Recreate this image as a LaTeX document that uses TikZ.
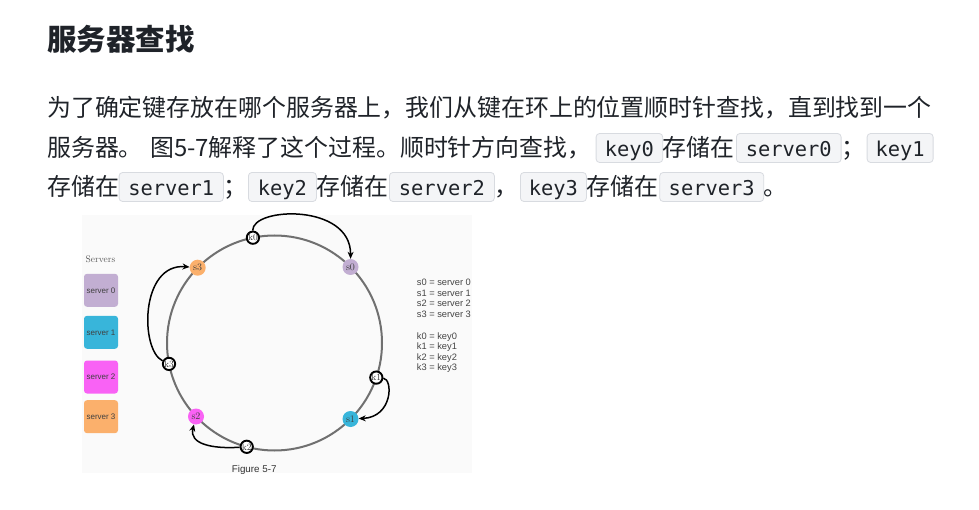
\documentclass[tikz,border=0pt]{standalone}
\usepackage{fontspec}
\usetikzlibrary{arrows.meta}
\newfontfamily\cjk{Noto Sans CJK SC}
\newfontfamily\codefont{DejaVu Sans Mono}
\newfontfamily\arial{Liberation Sans}
\definecolor{textdark}{HTML}{1F2329}
\definecolor{codebg}{HTML}{F4F5F7}
\definecolor{codeborder}{HTML}{D8DBE0}
\definecolor{figbg}{HTML}{FAFAFA}
\definecolor{ringgray}{HTML}{707070}
\definecolor{cpurple}{HTML}{C2AED2}
\definecolor{ccyan}{HTML}{38B5DA}
\definecolor{cmagenta}{HTML}{F962F5}
\definecolor{corange}{HTML}{FBB06C}
\definecolor{leggray}{HTML}{444444}
\begin{document}
\begin{tikzpicture}[x=1pt,y=-1pt,
  txt/.style={inner sep=0pt, anchor=base west, text=textdark, font=\cjk\fontsize{23.9}{28}\selectfont},
  titletxt/.style={inner sep=0pt, anchor=base west, text=textdark, font=\cjk\bfseries\fontsize{29.5}{34}\selectfont},
  codebox/.style={draw=codeborder, fill=codebg, rounded corners=3.5pt, line width=0.8pt, anchor=west,
    inner xsep=0pt, inner ysep=2.5pt, text height=20.5pt, text depth=3.5pt,
    font=\codefont\fontsize{20.4}{24}\selectfont, text=textdark},
  srv/.style={circle, minimum size=16pt, inner sep=0pt, font=\rmfamily\fontsize{10}{10}\selectfont, text=black!75},
  keyn/.style={circle, draw=black, line width=1.9pt, fill=white, minimum size=12.3pt, inner sep=0pt,
    font=\rmfamily\fontsize{9.5}{9.5}\selectfont, text=black!80},
  legbox/.style={rounded corners=3pt, minimum width=34pt, minimum height=33pt, inner sep=0pt,
    font=\arial\fontsize{8}{9}\selectfont, text=black!75},
  legtxt/.style={inner sep=0pt, anchor=base west, font=\arial\fontsize{9.3}{10.5}\selectfont, text=leggray},
  arr/.style={-{Stealth[length=7pt,width=6pt,inset=2.2pt]}, line width=1.5pt, black}
]
\useasboundingbox (0,0) rectangle (979,510);
\fill[white] (0,0) rectangle (979,510);

% ---- heading and paragraph ----
\node[titletxt] (title) at (47,50.7) {服务器查找};
\node[txt] (l1) at (47,117) {为了确定键存放在哪个服务器上，我们从键在环上的位置顺时针查找，直到找到一个};

\node[txt] (l2a) at (47,157) {服务器。};
\node[txt] (l2b) at (150,157) {图5-7解释了这个过程。顺时针方向查找，};
\node[codebox, minimum width=66.6pt] (ck0) at (595.7,148) {key0};
\node[txt] (l2c) at (662.5,157) {存储在};
\node[codebox, minimum width=104.7pt] (cs0) at (736,148) {server0};
\node[txt] (l2d) at (841,157) {；};
\node[codebox, minimum width=66pt] (ck1) at (866.7,148) {key1};

\node[txt] (l3a) at (47,196) {存储在};
\node[codebox, minimum width=104.3pt] (cs1) at (118.7,187) {server1};
\node[txt] (l3b) at (223,196) {；};
\node[codebox, minimum width=68pt] (ck2) at (248,187) {key2};
\node[txt] (l3c) at (316,196) {存储在};
\node[codebox, minimum width=105pt] (cs2) at (389,187) {server2};
\node[txt] (l3d) at (494,196) {，};
\node[codebox, minimum width=66pt] (ck3) at (520,187) {key3};
\node[txt] (l3e) at (586,196) {存储在};
\node[codebox, minimum width=104pt] (cs3) at (659.3,187) {server3};
\node[txt] (l3f) at (763.3,196) {。};

% ---- figure ----
\fill[figbg] (82,215) rectangle (472,473);

\node[legbox, fill=cpurple] (lg0) at (101,290.3) {server 0};
\node[legbox, fill=ccyan] (lg1) at (101,332.3) {server 1};
\node[legbox, fill=cmagenta] (lg2) at (101,377) {server 2};
\node[legbox, fill=corange] (lg3) at (101,416.7) {server 3};
\node[font=\rmfamily\fontsize{9.5}{10}\selectfont, text=black!65, inner sep=0pt] (servers) at (100.5,259) {Servers};

\node[circle, draw=ringgray, line width=2pt, minimum size=215pt, inner sep=0pt] (ring) at (274.5,343) {};

\node[srv, fill=cpurple] (s0) at (350.5,267.0) {s0};
\node[srv, fill=ccyan] (s1) at (350.5,419.0) {s1};
\node[srv, fill=cmagenta] (s2) at (196.0,416.5) {s2};
\node[srv, fill=corange] (s3) at (197.7,267.7) {s3};

\node[keyn] (k0) at (252.9,237.7) {k0};
\node[keyn] (k1) at (376.3,377.6) {k1};
\node[keyn] (k2) at (246.7,446.8) {k2};
\node[keyn] (k3) at (169.0,363.9) {k3};

\draw[arr] (k0) .. controls (252,207) and (351,203) .. (s0);
\draw[arr] (k1) .. controls (393,379) and (393,417) .. (s1);
\draw[arr] (k2) .. controls (212,449) and (189,444) .. (s2);
\draw[arr] (k3) .. controls (140,350) and (140,263) .. (s3);

\node[legtxt] (t1) at (416.7,286) {s0 = server 0};
\node[legtxt] (t2) at (416.7,296.6) {s1 = server 1};
\node[legtxt] (t3) at (416.7,307) {s2 = server 2};
\node[legtxt] (t4) at (416.7,317.3) {s3 = server 3};
\node[legtxt] (t5) at (416.7,339) {k0 = key0};
\node[legtxt] (t6) at (416.7,349.6) {k1 = key1};
\node[legtxt] (t7) at (416.7,360) {k2 = key2};
\node[legtxt] (t8) at (416.7,370.6) {k3 = key3};

\node[font=\arial\fontsize{9.8}{11}\selectfont, text=black!80, inner sep=0pt] (cap) at (254.2,470) {Figure 5-7};
\end{tikzpicture}
\end{document}
